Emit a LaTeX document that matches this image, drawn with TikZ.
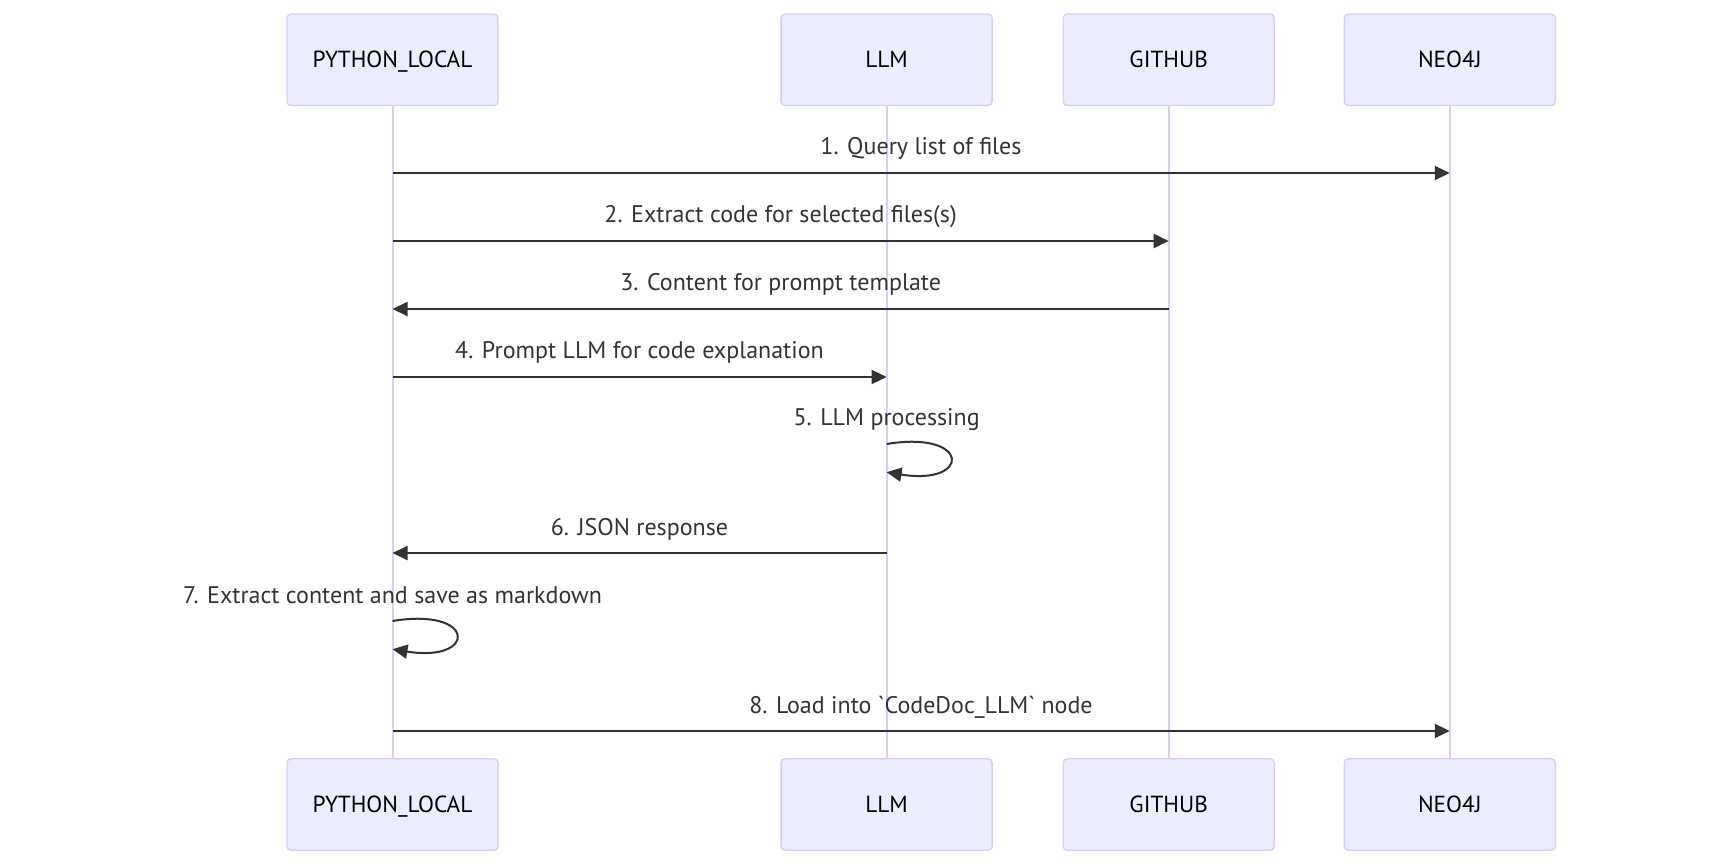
\documentclass[tikz,border=0pt]{standalone}
\usepackage{fontspec}
\setmainfont{PT Sans}[Ligatures=TeXOff]
\usepackage{tikz}
\usetikzlibrary{shapes,arrows,arrows.meta}

\definecolor{actorfill}{HTML}{ECECFF}
\definecolor{actorline}{RGB}{218,206,243}
\definecolor{sigcol}{HTML}{333333}

\tikzset{
  actor/.style={draw=actorline, fill=actorfill, line width=1.4pt, rounded corners=4pt,
    minimum width=211pt, minimum height=91.5pt, text=black,
    text height=16pt, text depth=0pt,
    font=\fontsize{23.3}{28}\selectfont},
  lifeline/.style={draw=actorline, line width=2pt},
  msgline/.style={draw=sigcol, line width=2pt, -{Triangle[length=15pt,width=14pt]}},
  msgtext/.style={text=sigcol, anchor=base, font=\fontsize{24}{29}\selectfont},
}

\begin{document}
\begin{tikzpicture}[x=1pt, y=-1pt]
      % Sizes
      \pgfmathsetmacro{\loopw}{84.6}
      \useasboundingbox (0,0) rectangle (1717,866);

      % actors
      \node[actor] (pyT) at (392.5, 59.8) {PYTHON\_LOCAL};
      \node[actor] (llmT) at (886.6, 59.8) {LLM};
      \node[actor] (ghT) at (1168.7, 59.8) {GITHUB};
      \node[actor] (neoT) at (1449.8, 59.8) {NEO4J};
      \node[actor] (pyB) at (392.5, 804.5) {PYTHON\_LOCAL};
      \node[actor] (llmB) at (886.6, 804.5) {LLM};
      \node[actor] (ghB) at (1168.7, 804.5) {GITHUB};
      \node[actor] (neoB) at (1449.8, 804.5) {NEO4J};

      % lifelines
      \foreach \a in {py,llm,gh,neo}
        \draw[lifeline] (\a T) -- (\a B);

      % vertices
      \coordinate (s1) at (pyT |- 0,173);
      \coordinate (e1) at (neoT |- 0,173);
      \coordinate (s2) at (pyT |- 0,241);
      \coordinate (e2) at (ghT |- 0,241);
      \coordinate (s3) at (ghT |- 0,309);
      \coordinate (e3) at (pyT |- 0,309);
      \coordinate (s4) at (pyT |- 0,377);
      \coordinate (e4) at (llmT |- 0,377);
      \coordinate (s5) at (llmT |- 0,444);
      \coordinate (e5) at (llmT |- 0,472.2);
      \coordinate (s6) at (llmT |- 0,553);
      \coordinate (e6) at (pyT |- 0,553);
      \coordinate (s7) at (pyT |- 0,621);
      \coordinate (e7) at (pyT |- 0,649.2);
      \coordinate (s8) at (pyT |- 0,731);
      \coordinate (e8) at (neoT |- 0,731);

      % draw diagram
      \draw[msgline] (s1) -- (e1);
      \draw[msgline] (s2) -- (e2);
      \draw[msgline] (s3) -- (e3);
      \draw[msgline] (s4) -- (e4);
      \draw[msgline] (s5) .. controls +(\loopw,-14) and +(\loopw,13.8) .. (e5);
      \draw[msgline] (s6) -- (e6);
      \draw[msgline] (s7) .. controls +(\loopw,-14) and +(\loopw,13.8) .. (e7);
      \draw[msgline] (s8) -- (e8);

      % labels
      \node[msgtext] (t1) at (921,155) {1. Query list of files};
      \node[msgtext] (t2) at (780.6,223) {2. Extract code for selected files(s)};
      \node[msgtext] (t3) at (780.6,291) {3. Content for prompt template};
      \node[msgtext] (t4) at (639.5,359) {4. Prompt LLM for code explanation};
      \node[msgtext] (t5) at (886.6,426) {5. LLM processing};
      \node[msgtext] (t6) at (639.5,535) {6. JSON response};
      \node[msgtext] (t7) at (392.5,603) {7. Extract content and save as markdown};
      \node[msgtext] (t8) at (921,713) {8. Load into `CodeDoc\_LLM` node};
\end{tikzpicture}
\end{document}
